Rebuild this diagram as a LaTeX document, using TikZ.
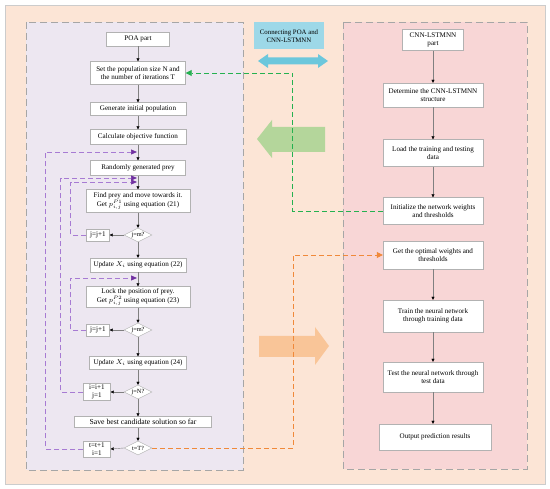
\documentclass[tikz,border=0pt]{standalone}
\usepackage{fontspec}
\setmainfont{Liberation Serif}
\usetikzlibrary{arrows.meta,shapes.geometric}

\definecolor{bgpeach}{HTML}{FCE5D6}
\definecolor{poafill}{HTML}{EDE7F1}
\definecolor{cnnfill}{HTML}{F8D6D6}
\definecolor{cyanbox}{HTML}{9DD8E8}
\definecolor{cyanarrow}{HTML}{6CC7DC}
\definecolor{greenarrow}{HTML}{B4D69B}
\definecolor{orangearrow}{HTML}{F9C598}
\definecolor{loopline}{HTML}{A77BD3}
\definecolor{loophead}{HTML}{7030A0}
\definecolor{linkgreen}{HTML}{25B150}
\definecolor{linkorange}{HTML}{F0893A}

\begin{document}
\begin{tikzpicture}[x=1pt, y=-1pt,
    box/.style={draw=gray!60, fill=white, align=center, inner sep=1pt, font=\fontsize{7.1}{8.3}\selectfont},
    test/.style={diamond, aspect=2, draw=gray!60, fill=white, inner sep=0pt, minimum width=28, minimum height=14, font=\fontsize{6.3}{7}\selectfont},
    panel/.style={draw=gray!70, line width=0.8, dash pattern=on 7pt off 4pt},
    flow/.style={draw=gray, -{Triangle[black, length=3pt, width=3pt]}},
    back/.style={draw=loopline, line width=0.7, dash pattern=on 5pt off 3pt, -{Triangle[loophead, length=6pt, width=5pt]}},
    link/.style={line width=0.8, dash pattern=on 5pt off 3pt}]

    \useasboundingbox (0,0) rectangle (550,489);
    \draw[draw=gray!40, fill=bgpeach] (5,5) rectangle (545,484);
    \draw[panel, fill=poafill] (26,22) rectangle (243,470);
    \draw[panel, fill=cnnfill] (343,22) rectangle (527,469);

    \node[fill=cyanbox, minimum width=70, minimum height=27, align=center, font=\fontsize{6.8}{7.8}\selectfont] (conn) at (289,36) {Connecting POA and\\CNN-LSTMNN};
    \fill[cyanarrow] (258,61) -- (268,54) -- (268,57.5) -- (318,57.5) -- (318,54) -- (328,61) -- (318,68) -- (318,64.5) -- (268,64.5) -- (268,68) -- cycle;
    \fill[greenarrow] (257,139) -- (272,120) -- (272,127) -- (325,127) -- (325,152) -- (272,152) -- (272,158) -- cycle;
    \fill[orangearrow] (259,336) -- (315,336) -- (315,327) -- (329,346) -- (315,365) -- (315,357) -- (259,357) -- cycle;

    \node[box, minimum width=63, minimum height=14] (poa) at (138,39) {POA part};
    \node[box, minimum width=95, minimum height=23] (setp) at (138,73) {Set the population size N and\\the number of iterations T};
    \node[box, minimum width=96, minimum height=13] (gen) at (138,109) {Generate initial population};
    \node[box, minimum width=96, minimum height=15] (calc) at (138,137) {Calculate objective function};
    \node[box, minimum width=95, minimum height=15] (rand) at (138,168) {Randomly generated prey};
    \node[box, minimum width=104, minimum height=23] (find) at (138,201) {Find prey and move towards it.\\[1.5pt]Get $p^{\scriptscriptstyle P1}_{\scriptscriptstyle i,j}$ using equation (21)};
    \node[test] (dj1) at (138,235) {j=m?};
    \node[box, minimum width=23, minimum height=12] (jb1) at (98,235) {j=j+1};
    \node[box, minimum width=96, minimum height=14] (upa) at (138,265) {Update $X_i$ using equation (22)};
    \node[box, minimum width=104, minimum height=21] (lock) at (138,297) {Lock the position of prey.\\[1.5pt]Get $p^{\scriptscriptstyle P2}_{\scriptscriptstyle i,j}$ using equation (23)};
    \node[test] (dj2) at (138,330) {j=m?};
    \node[box, minimum width=23, minimum height=12] (jb2) at (98,330) {j=j+1};
    \node[box, minimum width=97, minimum height=13] (upb) at (138,363) {Update $X_i$ using equation (24)};
    \node[test] (dN) at (138,392) {j=N?};
    \node[box, minimum width=27, minimum height=17] (ib) at (97,392) {i=i+1\\j=1};
    \node[box, minimum width=137, minimum height=11, font=\fontsize{7.7}{8}\selectfont] (save) at (143,422) {Save best candidate solution so far};
    \node[test] (dT) at (138,448) {t=T?};
    \node[box, minimum width=27, minimum height=16] (tb) at (97,449) {t=t+1\\i=1};

    \node[box, minimum width=61, minimum height=21] (cnn) at (433,40) {CNN-LSTMNN\\part};
    \node[box, minimum width=100, minimum height=24] (det) at (433,95) {Determine the CNN-LSTMNN\\structure};
    \node[box, minimum width=100, minimum height=27] (load) at (433,153) {Load the training and testing\\data};
    \node[box, minimum width=100, minimum height=27] (init) at (433,211) {Initialize the network weights\\and thresholds};
    \node[box, minimum width=100, minimum height=28] (opt) at (433,255) {Get the optimal weights and\\thresholds};
    \node[box, minimum width=100, minimum height=32] (train) at (433,316) {Train the neural network\\through training data};
    \node[box, minimum width=100, minimum height=30] (test) at (433,377) {Test the neural network through\\test data};
    \node[box, minimum width=112, minimum height=26] (out) at (435,437) {Output prediction results};

    \draw[flow] (poa) -- (setp);
    \draw[flow] (setp) -- (gen);
    \draw[flow] (gen) -- (calc);
    \draw[flow] (calc) -- (rand);
    \draw[flow] (rand) -- (find);
    \draw[flow] (find) -- (dj1);
    \draw[flow] (dj1) -- (upa);
    \draw[flow] (upa) -- (lock);
    \draw[flow] (lock) -- (dj2);
    \draw[flow] (dj2) -- (upb);
    \draw[flow] (upb) -- (dN);
    \draw[flow] (dN.south) -- (dN.south |- save.north);
    \draw[flow] (save.south -| dT) -- (dT.north);
    \draw[flow] (dj1.west) -- (jb1.east);
    \draw[flow] (dj2.west) -- (jb2.east);
    \draw[flow] (dN.west) -- (ib.east);
    \draw[flow] (dT.west) -- (tb.east);

    \draw[flow] (cnn) -- (det);
    \draw[flow] (det) -- (load);
    \draw[flow] (load) -- (init);
    \draw[flow] (opt) -- (train);
    \draw[flow] (train) -- (test);
    \draw[flow] (test.south) -- (test.south |- out.north);

    \coordinate (in1) at (137,152);
    \coordinate (in2) at (137,178);
    \coordinate (in3) at (137,182);
    \coordinate (in4) at (137,278);
    \draw[back] (tb.west) -- ++(-37.5,0) |- (in1);
    \draw[back] (ib.west) -- ++(-22.5,0) |- (in2);
    \draw[back] (jb1.west) -- ++(-15.5,0) |- (in3);
    \draw[back] (jb2.west) -- ++(-15.5,0) |- (in4);

    \draw[link, draw=linkgreen, -{Triangle[linkgreen, length=6pt, width=6pt]}] (init.west) -- ++(-90,0) |- (setp.east);
    \draw[link, draw=linkorange, -{Triangle[linkorange, length=6pt, width=6pt]}] (dT.east) -- ++(141,0) |- (opt.west);
\end{tikzpicture}
\end{document}
